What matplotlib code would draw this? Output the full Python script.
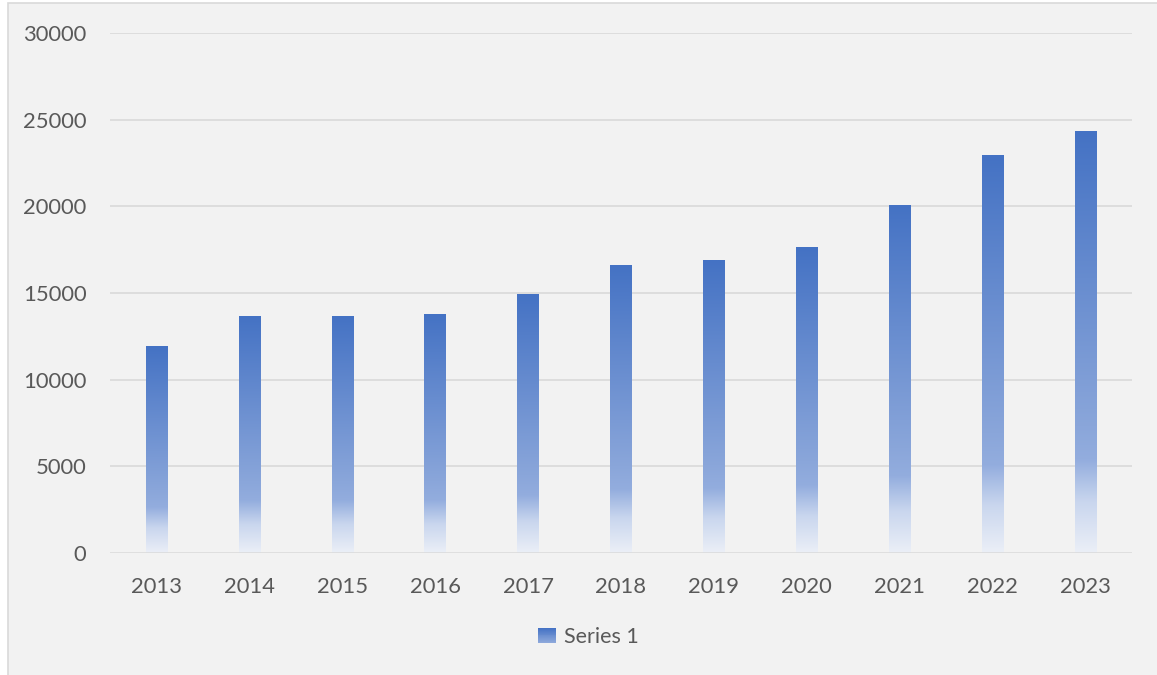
import numpy as np
import matplotlib
matplotlib.use("Agg")
import matplotlib.pyplot as plt
from matplotlib.colors import LinearSegmentedColormap
from matplotlib.patches import Rectangle
from matplotlib.legend_handler import HandlerBase


# ************ #
# *** DATA *** #
# ************ #

years = ["2013", "2014", "2015", "2016", "2017", "2018", "2019", "2020", "2021", "2022", "2023"]
values = [11950, 13680, 13680, 13800, 14950, 16620, 16900, 17650, 20080, 22960, 24350]
yTicks = [0, 5000, 10000, 15000, 20000, 25000, 30000]
seriesName = "Series 1"


# *************** #
# *** STYLING *** #
# *************** #

BG = "#F2F2F2"
GRID = "#D9D9D9"
TEXT = "#595959"
FONT = ["Lato", "DejaVu Sans"]

# bottom -> top of each bar
barCmap = LinearSegmentedColormap.from_list("fade", [
    (0.00, "#EBEFF7"),
    (0.12, "#C9D6EE"),
    (0.22, "#93ADDE"),
    (0.30, "#8AA6DA"),
    (1.00, "#4472C4"),
])


class GradientHandler(HandlerBase):
    def create_artists(self, legend, orig_handle, xdescent, ydescent, width, height, fontsize, trans):
        n = 16
        keyW = height * 1.2
        x0 = -xdescent + (width - keyW)
        arts = []
        for i in range(n):
            c = barCmap(0.25 + 0.75 * (i + 0.5) / n)
            r = Rectangle((x0, -ydescent + height * i / n), keyW, height / n + 0.05,
                          facecolor=c, edgecolor="none", transform=trans)
            arts.append(r)
        return arts


fig = plt.figure(figsize=(11.57, 6.75), dpi=100, facecolor="white")
fig.patches.append(Rectangle((8 / 1157, -0.1), 1.2, 1.1 - 4 / 675 + 0.001,
                             transform=fig.transFigure, facecolor=BG,
                             edgecolor=GRID, linewidth=1.2, zorder=-10))

ax = fig.add_axes([110 / 1157, 1 - 553 / 675, (1132 - 110) / 1157, (553 - 33) / 675])
ax.set_facecolor(BG)

x = np.arange(len(years))
barWidth = 0.23
bars = ax.bar(x, values, width=barWidth, color="none", edgecolor="none", zorder=3)

grad = np.linspace(0, 1, 256).reshape(-1, 1)
for b in bars:
    x0, y0 = b.get_x(), b.get_y()
    im = ax.imshow(grad, cmap=barCmap, origin="lower", aspect="auto", interpolation="bilinear",
                   extent=[x0, x0 + b.get_width(), y0, y0 + b.get_height()], zorder=3)
    im.set_clip_path(b)

ax.set_xlim(-0.5, len(years) - 0.5)
ax.set_ylim(0, 30000)
ax.set_xticks(x)
ax.set_xticklabels(years)
ax.set_yticks(yTicks)
ax.set_yticklabels([str(t) for t in yTicks])

for t in yTicks[1:]:
    ax.axhline(t, color=GRID, linewidth=1.2, zorder=1)
ax.axhline(0, color=GRID, linewidth=1.8, zorder=4)

for s in ax.spines.values():
    s.set_visible(False)
ax.tick_params(axis="both", length=0, labelsize=15.8, labelcolor=TEXT)
ax.tick_params(axis="y", pad=17)
ax.tick_params(axis="x", pad=17)
for lbl in ax.get_xticklabels() + ax.get_yticklabels():
    lbl.set_family(FONT)

proxy = Rectangle((0, 0), 1, 1)
leg = fig.legend([proxy], [seriesName], handler_map={Rectangle: GradientHandler()},
                 loc="center", bbox_to_anchor=(589 / 1157, 1 - 637 / 675),
                 frameon=False, prop={"family": FONT, "size": 15.5},
                 handlelength=0.8, handletextpad=0.35)
for t in leg.get_texts():
    t.set_color(TEXT)

plt.savefig("out.png", dpi=100, facecolor=fig.get_facecolor())
plt.close(fig)
